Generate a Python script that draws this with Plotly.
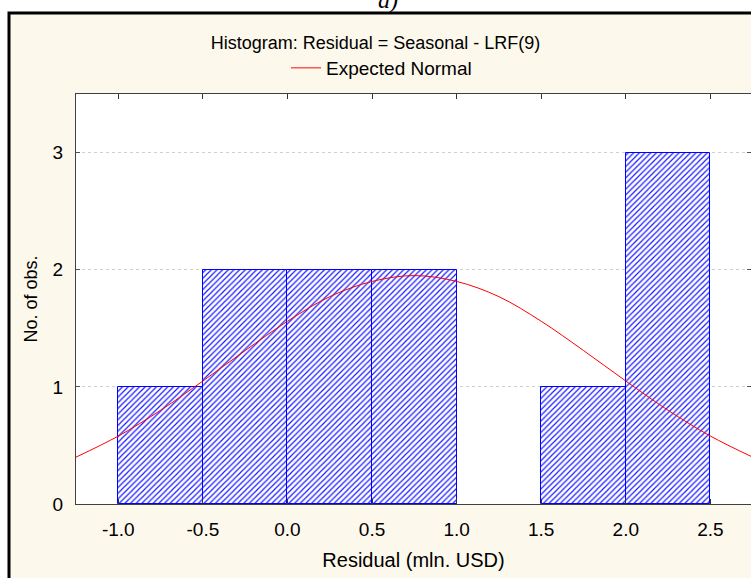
import plotly.graph_objects as go

# Histogram bins (left edges) and counts
bin_left = [-1.0, -0.5, 0.0, 0.5, 1.0, 1.5, 2.0]
counts = [1, 2, 2, 2, 0, 1, 3]
bin_width = 0.5

# Expected normal curve
curve_x = [-1.25, -1.0, -0.75, -0.5, -0.25, 0.0, 0.25, 0.5, 0.75,
           1.0, 1.25, 1.5, 1.75, 2.0, 2.25, 2.5, 2.75]
curve_y = [0.40, 0.58, 0.80, 1.05, 1.31, 1.56, 1.77, 1.90, 1.95,
           1.90, 1.77, 1.56, 1.31, 1.05, 0.80, 0.58, 0.40]

x_ticks = [-1.0, -0.5, 0.0, 0.5, 1.0, 1.5, 2.0, 2.5]
y_ticks = [0, 1, 2, 3]

FONT = "Arial, Liberation Sans, sans-serif"
CREAM = "#fdf8ec"

W, H = 751, 578
L, R, T, B = 76, 0, 94, 74
pw = W - L - R
ph = H - T - B


def px_x(p):
    return (p - L) / pw


def px_y(p):
    return (H - B - p) / ph


bx = [b + bin_width / 2 for b, c in zip(bin_left, counts) if c > 0]
by = [c for c in counts if c > 0]

fig = go.Figure()
fig.add_trace(go.Bar(
    x=bx, y=by, width=bin_width,
    marker=dict(color="white",
                line=dict(color="#0000ff", width=1),
                pattern=dict(shape="/", fgcolor="#1a1aff", bgcolor="white",
                             size=4, solidity=0.3, fillmode="replace")),
    showlegend=False, hoverinfo="skip",
))
fig.add_trace(go.Scatter(
    x=curve_x, y=curve_y, mode="lines", name="Expected Normal",
    line=dict(color="#ff0000", width=1, shape="spline"),
))

fig.update_layout(
    width=W, height=H,
    margin=dict(l=L, r=R, t=T, b=B, pad=0),
    paper_bgcolor="white",
    plot_bgcolor="white",
    font=dict(family=FONT, size=18, color="black"),
    title=dict(text="Histogram: Residual = Seasonal - LRF(9)",
               x=0.5, xref="container", xanchor="center",
               y=1 - 43 / H, yref="container", yanchor="middle",
               font=dict(family=FONT, size=18, color="black")),
    showlegend=True,
    legend=dict(orientation="h", x=px_x(286), xanchor="left",
                y=px_y(68), yanchor="middle",
                bgcolor="rgba(0,0,0,0)", borderwidth=0,
                font=dict(family=FONT, size=19, color="black")),
    bargap=0,
    shapes=[
        dict(type="rect", xref="paper", yref="paper", layer="below",
             x0=px_x(9), x1=px_x(800), y0=px_y(650), y1=px_y(13),
             fillcolor=CREAM, line=dict(color="black", width=3)),
        dict(type="rect", xref="paper", yref="paper", layer="below",
             x0=0, x1=1, y0=0, y1=1,
             fillcolor="white", line=dict(width=0)),
    ],
    annotations=[
        dict(text="<i>a)</i>", x=px_x(388), xref="paper", xanchor="center",
             y=px_y(15), yref="paper", yanchor="bottom", showarrow=False,
             font=dict(family="Liberation Serif, Times New Roman, serif",
                       size=24, color="black")),
    ],
)

fig.update_xaxes(
    range=[-1.25, 2.74], tickvals=x_ticks,
    ticktext=[f"{v:.1f}" for v in x_ticks],
    ticks="inside", ticklen=5, tickcolor="#333333",
    showline=True, linecolor="#404040", linewidth=1, mirror="ticks",
    showgrid=False, zeroline=False,
    tickfont=dict(family=FONT, size=19, color="black"),
    ticklabelstandoff=8,
    title=dict(text="Residual (mln. USD)", standoff=14,
               font=dict(family=FONT, size=20, color="black")),
)
fig.update_yaxes(
    range=[0, 3.5], tickvals=y_ticks,
    ticks="inside", ticklen=4, tickcolor="#555555",
    showline=True, linecolor="#404040", linewidth=1, mirror="ticks",
    showgrid=True, gridcolor="#cfcfcf", griddash="dot", gridwidth=1,
    zeroline=False,
    tickfont=dict(family=FONT, size=19, color="black"),
    ticklabelstandoff=8,
    title=dict(text="No. of obs.", standoff=10,
               font=dict(family=FONT, size=18, color="black")),
)

fig.write_html("out.html")
